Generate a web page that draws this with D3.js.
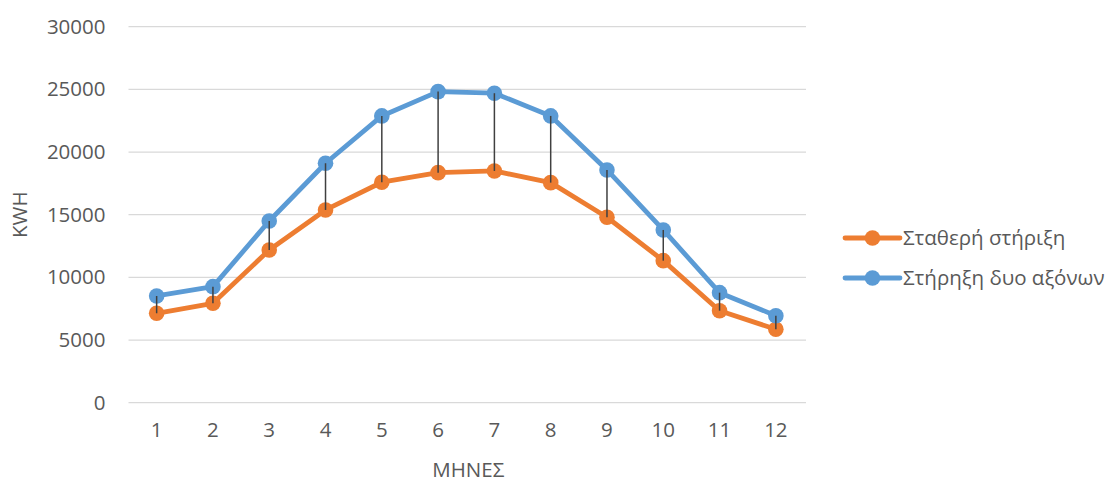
<!DOCTYPE html>
<html><head><meta charset="utf-8">
<script src="https://cdn.jsdelivr.net/npm/d3@7"></script>
<style>body{margin:0;background:#fff}svg{display:block}</style>
</head><body><svg id="c" width="1108" height="483"></svg>
<script>
const months = ["1","2","3","4","5","6","7","8","9","10","11","12"];
const fixedMount = [7135,7933,12187,15379,17590,18356,18491,17558,14796,11333,7342,5858];
const dualAxis = [8515,9258,14501,19106,22881,24820,24693,22881,18572,13783,8779,6943];
const yTicks = [0,5000,10000,15000,20000,25000,30000];
const seriesNames = ["Σταθερή στήριξη","Στήρηξη δυο αξόνων"];
const colors = ["#ED7D31","#5B9BD5"];

const svg = d3.select("#c");
const font = "'Open Sans', sans-serif";
const fs = 20.5;
const L = 128.5, R = 804, T = 26.7, B = 402.7;
const x = d3.scaleBand().domain(months).range([L,R]);
const y = d3.scaleLinear().domain([0,30000]).range([B,T]);

// gridlines
svg.append("g").selectAll("line").data(yTicks).join("line")
  .attr("x1",L).attr("x2",R+2).attr("y1",d=>y(d)).attr("y2",d=>y(d))
  .attr("stroke","#d9d9d9").attr("stroke-width",1.3);

// y axis labels
const yAxis = svg.append("g").attr("transform",`translate(${L-23},0)`)
  .call(d3.axisLeft(y).tickValues(yTicks).tickSize(0).tickPadding(0).tickFormat(d3.format("d")));
yAxis.select(".domain").remove();
yAxis.selectAll("text").attr("font-family",font).attr("font-size",fs).attr("fill","#595959");

// x axis labels
const xAxis = svg.append("g").attr("transform",`translate(0,${B+20})`)
  .call(d3.axisBottom(x).tickSize(0).tickPadding(0));
xAxis.select(".domain").remove();
xAxis.selectAll("text").attr("font-family",font).attr("font-size",fs).attr("fill","#595959").attr("dy","0.71em");

// axis titles
svg.append("text").attr("transform",`translate(27,${(T+B)/2}) rotate(-90)`)
  .attr("text-anchor","middle").attr("font-family",font).attr("font-size",fs).attr("fill","#595959").text("KWH");
svg.append("text").attr("x",(L+R)/2+2).attr("y",477)
  .attr("text-anchor","middle").attr("font-family",font).attr("font-size",fs).attr("fill","#595959").text("ΜΗΝΕΣ");

const cx = d => x(d) + x.bandwidth()/2;
const data = [fixedMount, dualAxis];
const line = d3.line().x((d,i)=>cx(months[i])).y(d=>y(d));

data.forEach((s,k)=>{
  svg.append("path").datum(s).attr("d",line).attr("fill","none")
    .attr("stroke",colors[k]).attr("stroke-width",4.8).attr("stroke-linejoin","round");
});
data.forEach((s,k)=>{
  svg.append("g").selectAll("circle").data(s).join("circle")
    .attr("cx",(d,i)=>cx(months[i])).attr("cy",d=>y(d)).attr("r",7.8).attr("fill",colors[k]);
});
// high-low lines
svg.append("g").selectAll("line").data(months).join("line")
  .attr("x1",d=>cx(d)).attr("x2",d=>cx(d))
  .attr("y1",(d,i)=>y(dualAxis[i])).attr("y2",(d,i)=>y(fixedMount[i]))
  .attr("stroke","#404040").attr("stroke-width",1.5);

// legend
seriesNames.forEach((n,k)=>{
  const ly = 238 + k*40;
  const g = svg.append("g");
  g.append("line").attr("x1",845).attr("x2",900).attr("y1",ly).attr("y2",ly)
    .attr("stroke",colors[k]).attr("stroke-width",4.8).attr("stroke-linecap","round");
  g.append("circle").attr("cx",872.5).attr("cy",ly).attr("r",7.8).attr("fill",colors[k]);
  g.append("text").attr("x",903).attr("y",ly).attr("dy","0.35em")
    .attr("font-family",font).attr("font-size",fs).attr("fill","#595959").text(n);
});
</script></body></html>
